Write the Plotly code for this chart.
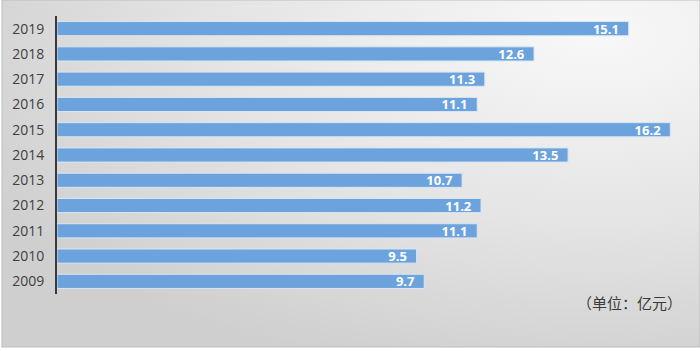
import base64
import plotly.graph_objects as go

years = ["2009", "2010", "2011", "2012", "2013", "2014", "2015", "2016", "2017", "2018", "2019"]
values = [9.7, 9.5, 11.1, 11.2, 10.7, 13.5, 16.2, 11.1, 11.3, 12.6, 15.1]
unit_label = "（单位：亿元）"

svg = """<svg xmlns='http://www.w3.org/2000/svg' width='700' height='351'>
<defs><radialGradient id='g' cx='0.85' cy='0.1' r='1.0' gradientUnits='objectBoundingBox'>
<stop offset='0' stop-color='#f8f8f8'/><stop offset='0.55' stop-color='#e4e4e4'/>
<stop offset='1' stop-color='#cfcfcf'/></radialGradient></defs>
<rect x='0' y='0' width='700' height='351' fill='white'/>
<rect x='2' y='0' width='698' height='347' fill='url(#g)' stroke='#bdbdbd' stroke-width='1'/>
</svg>"""
src = "data:image/svg+xml;base64," + base64.b64encode(svg.encode()).decode()

fig = go.Figure(go.Bar(
    x=values, y=years, orientation="h",
    marker=dict(color="#6ca3dc", line=dict(color="#d8e6f4", width=1)),
    text=[f"{v:.1f}\u00a0\u00a0" for v in values],
    textposition="inside", insidetextanchor="end",
    textfont=dict(family="Open Sans, sans-serif", size=13, color="white", weight="bold"),
    cliponaxis=False,
))

fig.update_layout(
    width=700, height=351,
    margin=dict(l=57, r=10, t=16, b=57),
    paper_bgcolor="rgba(0,0,0,0)", plot_bgcolor="rgba(0,0,0,0)",
    bargap=0.44, showlegend=False,
    uniformtext=dict(minsize=13, mode="show"),
    xaxis=dict(range=[0, 16.72], visible=False, fixedrange=True),
    yaxis=dict(categoryorder="array", categoryarray=years, showgrid=False,
               showline=True, linecolor="#3a3a3a", linewidth=2, ticks="",
               ticklabelstandoff=8,
               tickfont=dict(family="Open Sans, sans-serif", size=14, color="#404040")),
    images=[dict(source=src, xref="paper", yref="paper", x=-57/633, y=1+16/278,
                 sizex=700/633, sizey=351/278, xanchor="left", yanchor="top",
                 sizing="stretch", layer="below")],
    annotations=[dict(text=unit_label, xref="paper", yref="paper", x=(684-57)/633,
                      y=(294-302)/278, xanchor="right", yanchor="middle", showarrow=False,
                      font=dict(family="Noto Sans CJK SC", size=15, color="#3a3a3a"))],
)

fig.write_html("out.html")
